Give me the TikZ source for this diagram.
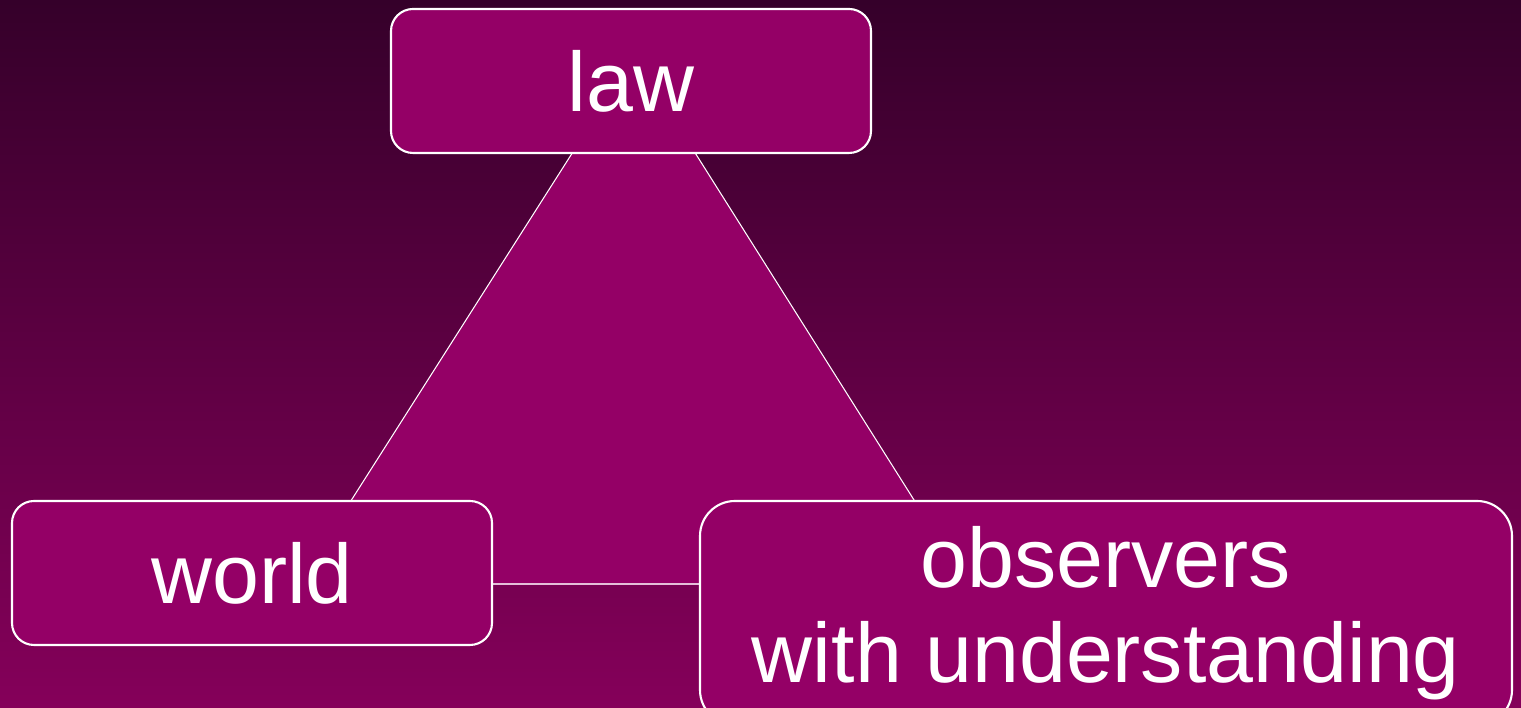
\documentclass[tikz,border=0pt]{standalone}
\usepackage{fontspec}
\setmainfont{Liberation Sans}
\usetikzlibrary{shapes}
\definecolor{plum}{HTML}{940066}
\definecolor{bgtop}{HTML}{35002A}
\definecolor{bgbottom}{HTML}{85005A}

\begin{document}
\begin{tikzpicture}[box/.style={draw=white, line width=0.6pt, fill=plum,
    rounded corners=0.22cm, text=white, align=center, inner sep=0pt,
    font=\fontsize{24}{27}\selectfont}]
    \useasboundingbox (0,0) rectangle (15.21,7.08);
    \shade[top color=bgtop, bottom color=bgbottom] (0,0) rectangle (15.21,7.08);

    % triangle behind the boxes
    \coordinate (apex) at (6.34,6.52);
    \coordinate (baseleft) at (2.98,1.24);
    \coordinate (baseright) at (9.67,1.24);
    \draw[white, line width=0.3pt, fill=plum] (apex) -- (baseleft) -- (baseright) -- cycle;
    \draw[white!75!plum, line width=0.6pt] (baseleft) -- (baseright);

    \node[box, minimum width=4.8cm, minimum height=1.44cm] (law) at (6.31,6.27) {law};
    \node[box, minimum width=4.8cm, minimum height=1.44cm] (world) at (2.52,1.35) {world};
    \node[box, rounded corners=0.35cm, minimum width=8.12cm, minimum height=2.24cm]
      (observers) at (11.06,0.95) {observers\\with understanding};
\end{tikzpicture}
\end{document}
